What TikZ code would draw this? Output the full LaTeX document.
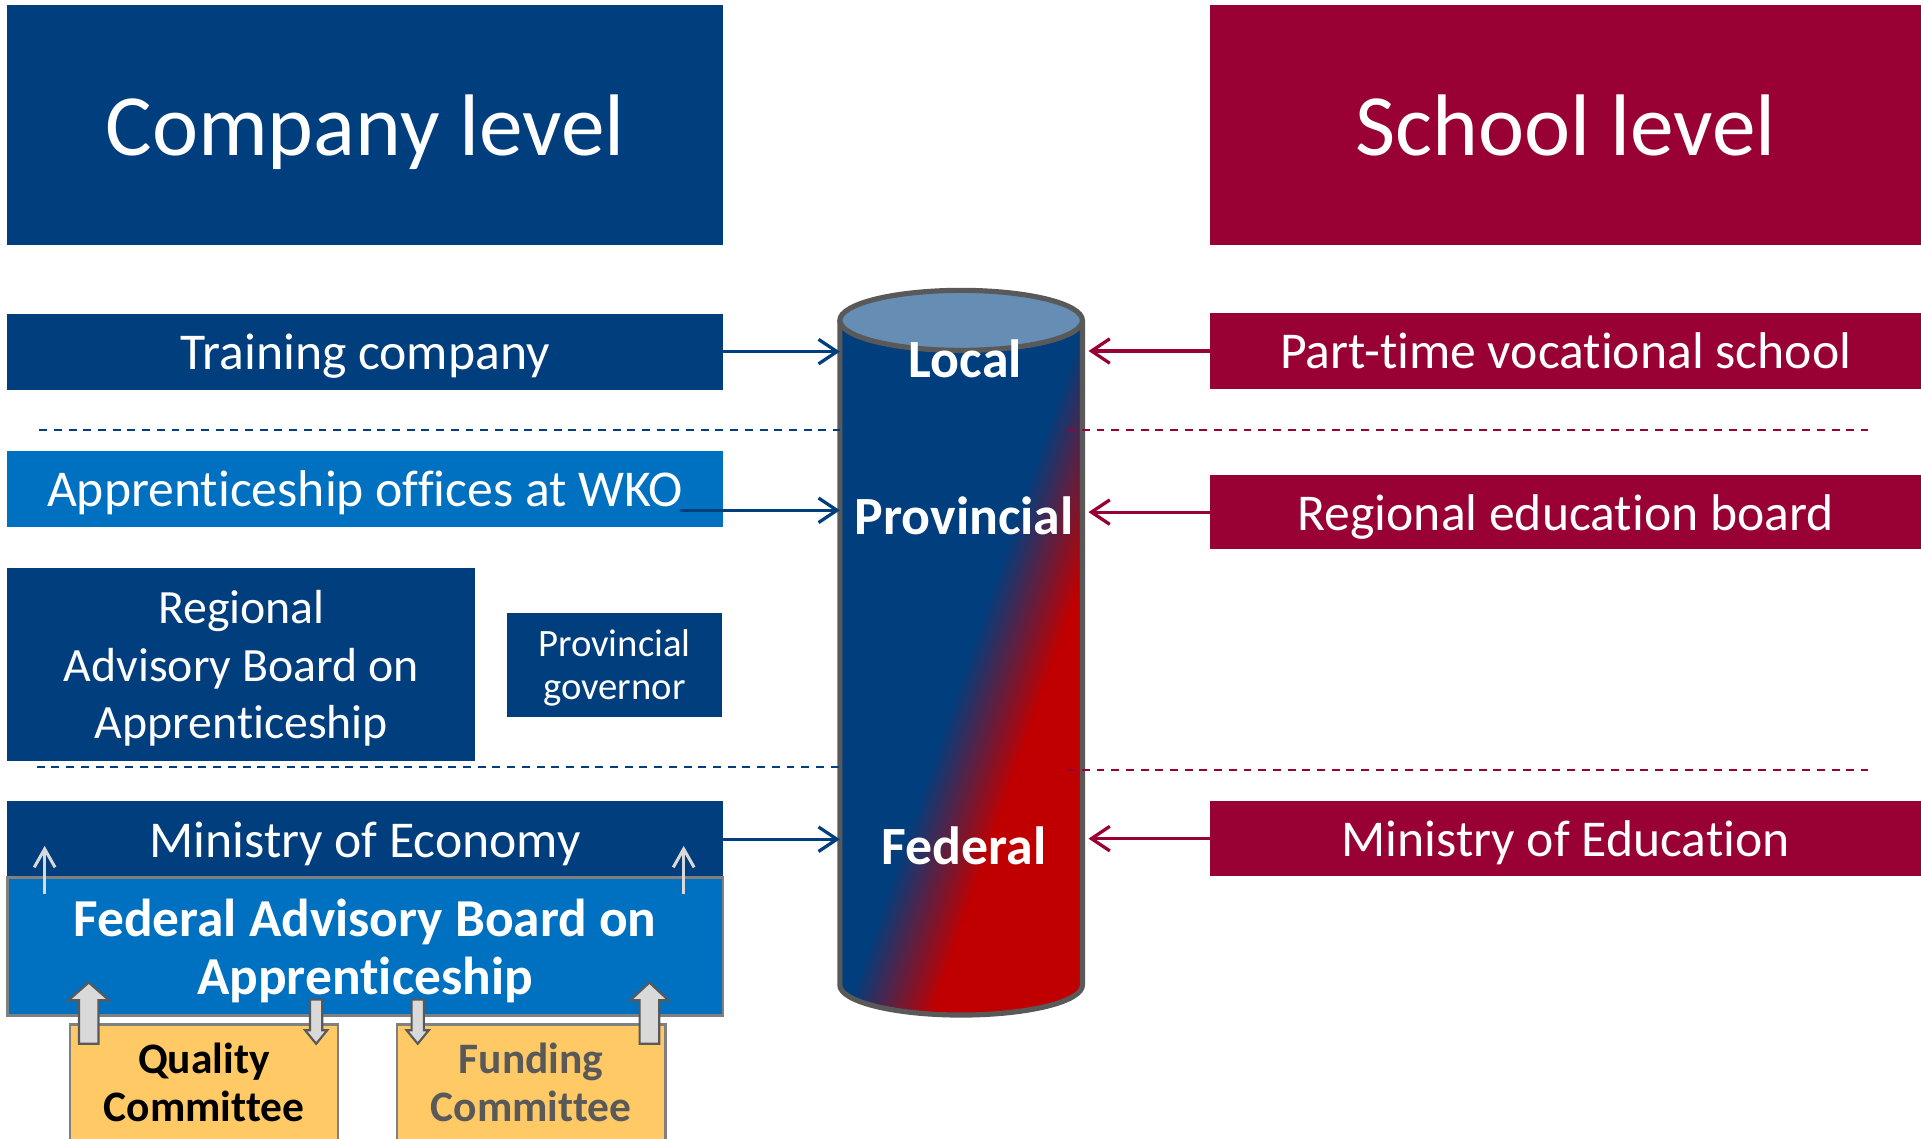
\documentclass[tikz,border=0pt]{standalone}
\usepackage{fontspec}
\setmainfont{Carlito}[Ligatures=NoCommon]
\usetikzlibrary{arrows.meta}

\definecolor{cblue}{RGB}{0,62,126}
\definecolor{lblue}{RGB}{0,112,192}
\definecolor{sred}{RGB}{153,0,51}
\definecolor{cylred}{RGB}{192,0,0}
\definecolor{captop}{RGB}{102,141,180}
\definecolor{rimgray}{RGB}{89,89,89}
\definecolor{cmtyellow}{RGB}{255,201,102}
\definecolor{liftgray}{RGB}{217,217,217}

\begin{document}
\begin{tikzpicture}[
	box/.style={rectangle, inner sep=0pt, text depth=0pt, text=white, align=center, font=\fontsize{12}{14}\selectfont},
	title/.style={box, minimum width=5.84cm, minimum height=1.96cm, font=\fontsize{20.3}{24}\selectfont},
	bar/.style={box, minimum width=5.84cm, minimum height=0.62cm},
	committee/.style={box, fill=cmtyellow, draw=gray, line width=0.6pt, text=black, minimum width=2.19cm, minimum height=0.95cm, font=\bfseries\fontsize{10.1}{11.1}\selectfont},
	level/.style={text=white, inner sep=0pt, font=\bfseries\fontsize{12.5}{15}\selectfont},
	rim/.style={draw=rimgray, line width=1.2pt},
	bluearrow/.style={cblue, line width=0.75pt, line cap=round, -{Straight Barb[length=1.5mm,width=2mm]}},
	redarrow/.style={bluearrow, sred},
	bluedash/.style={cblue, line width=0.5pt, dash pattern=on 0.065cm off 0.055cm},
	reddash/.style={bluedash, sred},
	lift/.style={liftgray, line width=0.7pt, -{Straight Barb[length=1.5mm,width=1.7mm]}},
	fatarrow/.style={fill=liftgray, draw=rimgray, line width=0.5pt, line join=miter}
]
	\useasboundingbox (0,0) rectangle (15.68,-9.29);
	\clip (0,0) rectangle (15.68,-9.29);

	\node[title, fill=cblue] (company) at (2.98,-1.02) {Company level};
	\node[title, fill=sred, minimum width=5.80cm] (school) at (12.78,-1.02) {School level};

	\node[bar, fill=cblue] (tc) at (2.98,-2.87) {Training company};
	\node[bar, fill=sred, minimum width=5.80cm] (pts) at (12.78,-2.865) {Part-time vocational school};
	\node[bar, fill=lblue] (wko) at (2.98,-3.99) {Apprenticeship offices at WKO};
	\node[bar, fill=sred, minimum width=5.80cm, minimum height=0.60cm] (reb) at (12.78,-4.18) {Regional education board};
	\node[box, fill=cblue, minimum width=3.82cm, minimum height=1.57cm, font=\fontsize{11.1}{13.4}\selectfont] (rab) at (1.97,-5.425) {Regional\\Advisory Board on\\Apprenticeship};
	\node[box, fill=cblue, minimum width=1.75cm, minimum height=0.85cm, font=\fontsize{9}{10}\selectfont] (gov) at (5.015,-5.425) {Provincial\\governor};
	\node[bar, fill=cblue] (moe) at (2.98,-6.85) {Ministry of Economy};
	\node[bar, fill=sred, minimum width=5.80cm, minimum height=0.61cm] (edu) at (12.78,-6.845) {Ministry of Education};
	\node[box, fill=lblue, draw=gray, line width=0.6pt, minimum width=5.84cm, minimum height=1.13cm, font=\bfseries\fontsize{12.4}{13.4}\selectfont] (fab) at (2.98,-7.725) {Federal Advisory Board on\\Apprenticeship};

	\node[committee] (qc) at (1.665,-8.835) {Quality\\Committee};
	\node[committee, text=rimgray] (fc) at (4.335,-8.835) {Funding\\Committee};

	\draw[lift] ([xshift=0.315cm,yshift=-0.145cm]fab.north west) -- ++(0,0.39);
	\draw[lift] ([xshift=-0.33cm,yshift=-0.145cm]fab.north east) -- ++(0,0.39);

	\draw[fatarrow, shift={(qc.north west)}] (0.085,-0.17) -- (0.085,0.185) -- (0,0.185) -- (0.165,0.33) -- (0.33,0.185) -- (0.245,0.185) -- (0.245,-0.17) -- cycle;
	\draw[fatarrow, shift={([xshift=-0.19cm]qc.north east)}] (-0.05,0.19) -- (-0.05,-0.06) -- (-0.09,-0.06) -- (0,-0.17) -- (0.09,-0.06) -- (0.05,-0.06) -- (0.05,0.19) -- cycle;
	\draw[fatarrow, shift={([xshift=0.18cm]fc.north west)}] (-0.05,0.19) -- (-0.05,-0.06) -- (-0.09,-0.06) -- (0,-0.17) -- (0.09,-0.06) -- (0.05,-0.06) -- (0.05,0.19) -- cycle;
	\draw[fatarrow, shift={([xshift=-0.14cm]fc.north east)}] (-0.08,-0.17) -- (-0.08,0.185) -- (-0.155,0.185) -- (0,0.33) -- (0.155,0.185) -- (0.08,0.185) -- (0.08,-0.17) -- cycle;

	\coordinate (cylW) at (6.855,-2.615);
	\coordinate (cylE) at (8.835,-2.615);
	\begin{scope}
		\clip (cylW) -- (6.855,-8.04) arc[start angle=180, end angle=360, x radius=0.99, y radius=0.245] -- (cylE) -- cycle;
		\begin{scope}[transform canvas={rotate around={-19:(7.74,-6.86)}}]
			\fill[cblue] (2,-14) rectangle (7.42,-1);
			\shade[left color=cblue, right color=cylred] (7.40,-14) rectangle (8.08,-1);
			\fill[cylred] (8.06,-14) rectangle (13,-1);
		\end{scope}
	\end{scope}
	\draw[rim] (cylW) -- (6.855,-8.04) arc[start angle=180, end angle=360, x radius=0.99, y radius=0.245] -- (cylE);
	\filldraw[rim, fill=captop] (7.845,-2.615) ellipse [x radius=0.99, y radius=0.245];

	\node[level] (local) at (7.88,-2.93) {Local};
	\node[level] (prov) at (7.87,-4.21) {Provincial};
	\node[level] (fed) at (7.87,-6.90) {Federal};

	\draw[bluedash] (0.32,-3.51) -- (6.86,-3.51);
	\draw[reddash] (8.71,-3.51) -- (15.25,-3.51);
	\draw[bluedash] (0.30,-6.26) -- (6.86,-6.26);
	\draw[reddash] (8.71,-6.285) -- (15.25,-6.285);

	\coordinate (wkotail) at (5.56,-4.165);
	\draw[bluearrow] (tc.east) -- (tc.east -| cylW);
	\draw[bluearrow] (wkotail) -- (wkotail -| cylW);
	\draw[bluearrow] (moe.east) -- (moe.east -| cylW);
	\draw[redarrow] (pts.west) -- ([xshift=0.05cm]pts.west -| cylE);
	\draw[redarrow] (reb.west) -- ([xshift=0.05cm]reb.west -| cylE);
	\draw[redarrow] (edu.west) -- ([xshift=0.05cm]edu.west -| cylE);
\end{tikzpicture}
\end{document}
